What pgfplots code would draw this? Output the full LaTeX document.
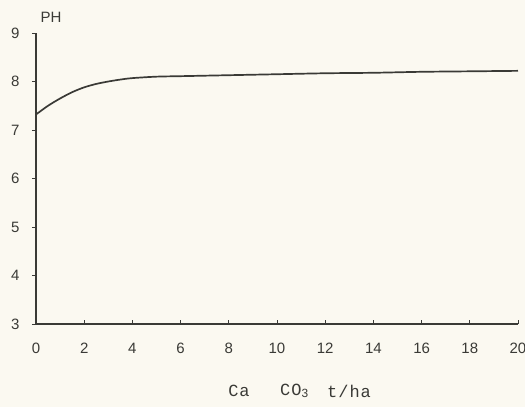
\documentclass[border=0pt]{standalone}
\usepackage{pgfplots}
\pgfplotsset{compat=1.18}
\usepackage{fontspec}
\setmainfont{Liberation Sans}
\newfontfamily\monofont[LetterSpace=6]{Liberation Mono}
\definecolor{paper}{HTML}{FBF9F1}
\definecolor{ink}{HTML}{3A3A36}
\begin{document}
\begin{tikzpicture}[x=1pt,y=1pt]
\useasboundingbox (0,0) rectangle (525,407);
\fill[paper] (0,0) rectangle (525,407);
\begin{axis}[
  at={(36pt,83pt)}, anchor=south west,
  scale only axis, width=482pt, height=291pt,
  xmin=0, xmax=20, ymin=3, ymax=9,
  axis x line=bottom, axis y line=left,
  axis line style={-, ink, line width=2.6pt},
  xtick={0,2,...,20}, ytick={3,4,...,9},
  x tick style={ink, line width=0.8pt}, y tick style={ink, line width=0.8pt},
  xtick align=inside, ytick align=outside,
  major tick length=4pt,
  tick label style={ink, font=\fontsize{15}{15}\selectfont},
  /pgf/number format/assume math mode=true,
  xticklabel style={yshift=-15pt, text height=11pt, text depth=0pt},
  yticklabel style={xshift=-9pt},
  clip=false,
]
\addplot[ink, line width=1.7pt, smooth] coordinates {
(0,7.32) (0.5,7.5) (1,7.65) (1.5,7.78) (2,7.88) (2.5,7.95) (3,8.0) (3.5,8.04) (4,8.07) (5,8.1) (6,8.11) (8,8.13) (10,8.15) (12,8.17) (14,8.18) (16,8.2) (18,8.21) (20,8.22)
};
\node[ink, anchor=west, font=\fontsize{15}{15}\selectfont] at (axis cs:0.05,9.33) {PH};
\node[ink, anchor=west, inner sep=0pt, font=\monofont\fontsize{17}{17}\selectfont] at (axis cs:7.97,1.62) {Ca};
\node[ink, anchor=west, inner sep=0pt, font=\monofont\fontsize{17}{17}\selectfont] at (axis cs:10.12,1.62) {CO$_{\mathrm{3}}$};
\node[ink, anchor=west, inner sep=0pt, font=\monofont\fontsize{17}{17}\selectfont] at (axis cs:12.07,1.62) {t/ha};
\end{axis}
\end{tikzpicture}
\end{document}
